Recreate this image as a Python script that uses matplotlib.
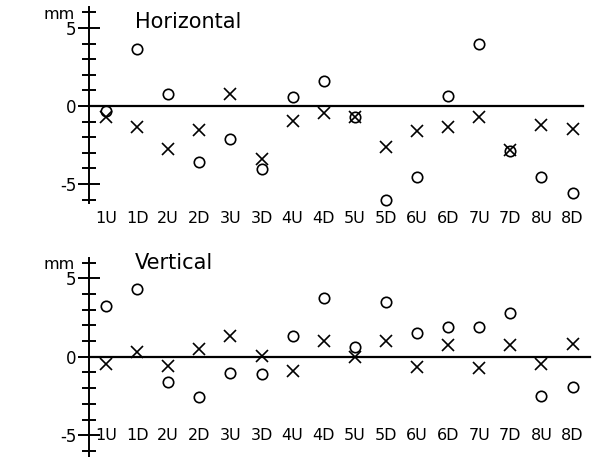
import matplotlib.pyplot as plt
import numpy as np

plt.rcParams['axes.unicode_minus'] = False
plt.rcParams['font.family'] = 'DejaVu Sans'

positions = ['1U', '1D', '2U', '2D', '3U', '3D', '4U', '4D',
             '5U', '5D', '6U', '6D', '7U', '7D', '8U', '8D']

# Horizontal deviations [mm]
horiz_circle = [-0.3, 3.65, 0.77, -3.6, -2.1, -4.05, 0.6, 1.58,
                -0.68, -6.0, -4.57, 0.62, 3.95, -2.86, -4.53, -5.55]
horiz_cross = [-0.68, -1.37, -2.78, -1.54, 0.77, -3.42, -0.94, -0.47,
               -0.68, -2.65, -1.58, -1.35, -0.72, -2.82, -1.24, -1.49]

# Vertical deviations [mm]
vert_circle = [3.23, 4.31, -1.59, -2.59, -1.06, -1.12, 1.32, 3.72,
               0.64, 3.46, 1.53, 1.89, 1.91, 2.78, -2.5, -1.91]
vert_cross = [-0.49, 0.32, -0.59, 0.49, 1.32, 0.04, -0.91, 1.02,
              0.0, 1.02, -0.68, 0.75, -0.74, 0.75, -0.49, 0.79]

W, H = 594, 457
fig = plt.figure(figsize=(W / 100, H / 100), dpi=100)

xs = np.arange(1, len(positions) + 1)
xlim = (1 + (0 - 106) / 31.1, 1 + (W - 106) / 31.1)
x_axis = 1 + (89 - 106) / 31.1


def panel(rect, ylim, circ, cross, title, title_y, lab_y, spine_lo, spine_hi, zero_end):
    ax = fig.add_axes(rect)
    ax.set_xlim(*xlim)
    ax.set_ylim(*ylim)
    for s in ['top', 'right', 'bottom']:
        ax.spines[s].set_visible(False)
    ax.spines['left'].set_position(('data', x_axis))
    ax.spines['left'].set_bounds(spine_lo, spine_hi)
    ax.spines['left'].set_linewidth(1.4)
    ax.set_xticks([])
    ax.set_yticks([-5, 0, 5], labels=['-5', '0', '5'])
    ax.set_yticks(np.arange(-6, 7), minor=True)
    ax.tick_params(axis='y', which='major', direction='inout', length=16,
                   width=1.4, labelsize=12, pad=1)
    ax.tick_params(axis='y', which='minor', direction='inout', length=10, width=1.4)
    ax.plot([x_axis, zero_end], [0, 0], color='black', lw=1.6)
    ax.plot(xs, circ, 'o', mfc='none', mec='black', ms=7.5, mew=1.2)
    ax.plot(xs, cross, 'x', color='black', ms=8.5, mew=1.2)
    for x, lab in zip(xs, positions):
        ax.text(x, lab_y, lab, ha='center', va='center', fontsize=11.5)
    ax.text(x_axis - 0.45, 5.85, 'mm', ha='right', va='center', fontsize=11.5)
    ax.text(1 + (135 - 106) / 31.1, title_y, title, ha='left', va='center',
            fontsize=15)
    ax.patch.set_visible(False)
    return ax


# top panel: figure pixels 0..228
top_h = 228
panel([0, 1 - top_h / H, 1, top_h / H],
      ((106 - top_h) / 15.6, 106 / 15.6),
      horiz_circle, horiz_cross, 'Horizontal', 5.4, -7.18, -6.2, 6.35,
      1 + (583 - 106) / 31.1)

# bottom panel: figure pixels 228..457
panel([0, 0, 1, 1 - top_h / H],
      ((356.7 - H) / 15.7, (356.7 - top_h) / 15.7),
      vert_circle, vert_cross, 'Vertical', 5.95, -5.03, -6.4, 6.3,
      1 + (590 - 106) / 31.1)

fig.savefig('out.png', dpi=100)
